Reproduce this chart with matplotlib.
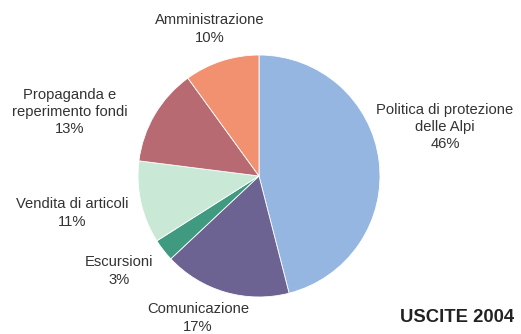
import matplotlib.pyplot as plt

plt.rcParams['font.family'] = ['Liberation Sans', 'DejaVu Sans']

labels = ['Politica di protezione\ndelle Alpi', 'Comunicazione', 'Escursioni',
          'Vendita di articoli', 'Propaganda e\nreperimento fondi', 'Amministrazione']
shares = [46, 17, 3, 11, 13, 10]
colors = ['#94b6e1', '#6d6392', '#3f9a80', '#c9e9d6', '#b76a72', '#f2916f']
# label centre positions in pixels (x, y from top)
label_pos = [(445, 127), (198, 318), (119, 271), (72, 213), (70, 112), (210, 29)]

W, H = 521, 334
fig = plt.figure(figsize=(W / 100, H / 100), dpi=100)
cx, cy, r = 259, 176, 121
ax = fig.add_axes([(cx - r) / W, (H - cy - r) / H, 2 * r / W, 2 * r / H])
ax.pie(shares, colors=colors, startangle=90, counterclock=False,
       wedgeprops=dict(edgecolor='white', linewidth=0.6))
ax.set_xlim(-1, 1)
ax.set_ylim(-1, 1)
ax.set_aspect('equal')
ax.axis('off')

for lab, val, (x, y) in zip(labels, shares, label_pos):
    fig.text(x / W, 1 - y / H, f'{lab}\n{val}%', ha='center', va='center',
             fontsize=10.6, color='#333333', linespacing=1.3)

fig.text(514 / W, 1 - 318 / H, 'USCITE 2004', ha='right', va='center',
         fontsize=13.3, fontweight='bold', color='#222222')

fig.savefig('out.png', dpi=100)
